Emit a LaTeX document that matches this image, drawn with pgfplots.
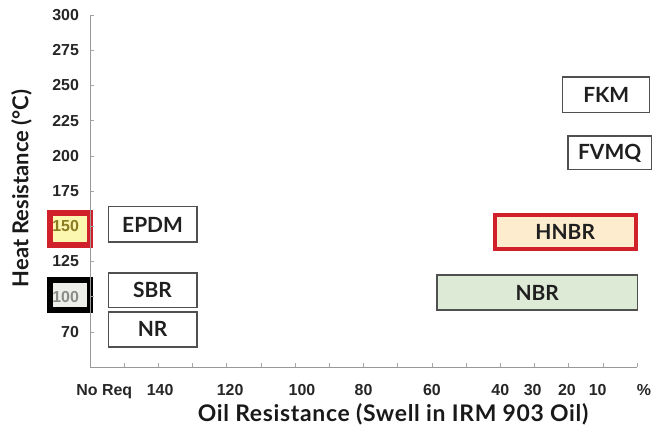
\documentclass[border=0pt]{standalone}
\usepackage{pgfplots}
\pgfplotsset{compat=1.18}
\usepackage{fontspec}
\setmainfont{Liberation Sans}
\newfontfamily\lab{Lato}
\newfontfamily\labw[LetterSpace=3]{Lato}
\definecolor{redb}{HTML}{D0202A}
\definecolor{yelf}{HTML}{FBF6B0}
\definecolor{grayf}{HTML}{EDF0EA}
\definecolor{peach}{HTML}{FDECCD}
\definecolor{greenf}{HTML}{DDEBD6}
\definecolor{olivet}{HTML}{8A7A20}
\definecolor{grayt}{HTML}{8A8C88}
\definecolor{boxb}{HTML}{505050}
\begin{document}
\begin{tikzpicture}
\begin{axis}[
  set layers,
  scale only axis, width=547bp, height=352bp,
  xmin=0, xmax=16, ymin=-1, ymax=9,
  axis lines=left,
  axis line style={-, draw=gray!80, line width=0.8pt},
  clip=false,
  tick align=inside,
  ytick={0,...,9},
  yticklabels={70,\textcolor{grayt}{100},125,\textcolor{olivet}{150},175,200,225,250,275,300},
  major tick length=4bp,
  tick style={draw=gray!70, line width=0.6pt},
  xtick={1,...,16},
  xticklabels={,,,,,,,,,,,,,,,,},
  extra x ticks={0.42,2.05,4.1,6.2,8,10,12,12.95,13.95,14.85},
  extra x tick labels={No Req,140,120,100,80,60,40,30,20,10},
  extra x tick style={tick style={draw=none}},
  xticklabel style={font=\fontsize{16}{18}\selectfont\bfseries, text=black!85, yshift=-14bp},
  yticklabel style={font=\fontsize{16}{18}\selectfont\bfseries, text=black!85, xshift=-7.5bp},
  xlabel={Oil Resistance (Swell in IRM 903 Oil)},
  ylabel={Heat Resistance (°C)},
  xlabel style={font=\labw\fontsize{23}{25}\selectfont\bfseries, text=black!90, at={(axis description cs:0.554,-0.134)}, anchor=center},
  ylabel style={font=\lab\fontsize{22}{24}\selectfont\bfseries, text=black!90, at={(axis description cs:-0.125,0.507)}, anchor=center},
]
% highlight squares on tick labels
\addplot[on layer=axis background, draw=redb, fill=yelf, line width=6bp] coordinates {(-1.17,2.47) (0,2.47) (0,3.375) (-1.17,3.375)} -- cycle;
\addplot[on layer=axis background, draw=black, fill=grayf, line width=6bp] coordinates {(-1.17,0.62) (0,0.62) (0,1.47) (-1.17,1.47)} -- cycle;
% material boxes
\addplot[draw=boxb, fill=white, line width=1.2bp] coordinates {(0.53,2.55) (3.13,2.55) (3.13,3.55) (0.53,3.55)} -- cycle;
\addplot[draw=boxb, fill=white, line width=1.2bp] coordinates {(0.53,0.70) (3.13,0.70) (3.13,1.67) (0.53,1.67)} -- cycle;
\addplot[draw=boxb, fill=white, line width=1.2bp] coordinates {(0.53,-0.43) (3.13,-0.43) (3.13,0.56) (0.53,0.56)} -- cycle;
\addplot[draw=boxb, fill=white, line width=1.2bp] coordinates {(13.83,6.24) (16.37,6.24) (16.37,7.24) (13.83,7.24)} -- cycle;
\addplot[draw=boxb, fill=white, line width=1.2bp] coordinates {(13.98,4.60) (16.43,4.60) (16.43,5.56) (13.98,5.56)} -- cycle;
\addplot[draw=redb, fill=peach, line width=4bp] coordinates {(11.84,2.35) (15.96,2.35) (15.96,3.32) (11.84,3.32)} -- cycle;
\addplot[draw=boxb, fill=greenf, line width=1.4bp] coordinates {(10.15,0.62) (16.02,0.62) (16.02,1.61) (10.15,1.61)} -- cycle;
% labels
\begin{scope}[every node/.style={font=\lab\fontsize{21}{23}\selectfont\bfseries, text=black!88}]
\node at (axis cs:1.83,3.05) {EPDM};
\node at (axis cs:1.83,1.19) {SBR};
\node at (axis cs:1.83,0.07) {NR};
\node at (axis cs:15.1,6.74) {FKM};
\node at (axis cs:15.2,5.08) {FVMQ};
\node at (axis cs:13.9,2.84) {HNBR};
\node at (axis cs:13.08,1.11) {NBR};
\end{scope}
\node[font=\fontsize{16}{18}\selectfont\bfseries, text=black!85] at ([yshift=-23bp]axis cs:16.2,-1) {\%};
\coordinate (sw) at (rel axis cs:0,0);
\coordinate (ne) at (rel axis cs:1,1);
\end{axis}
\pgfresetboundingbox
\path[use as bounding box] ([shift={(-90bp,-70bp)}]sw) rectangle ([shift={(15bp,15bp)}]ne);
\end{tikzpicture}
\end{document}
